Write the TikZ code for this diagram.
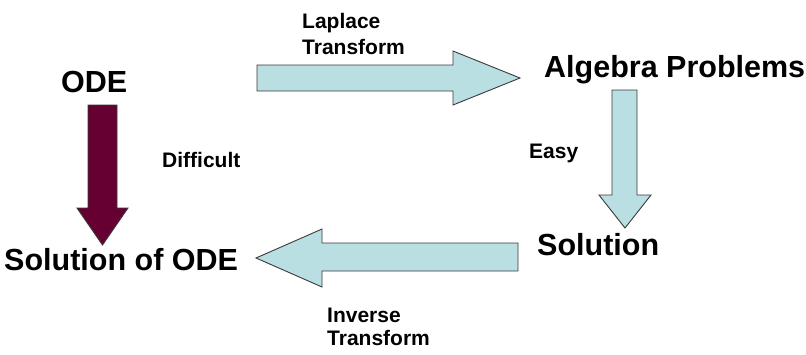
\documentclass[tikz,border=0pt]{standalone}
\usepackage{fontspec}
\setmainfont{Liberation Sans}
\definecolor{lightarrow}{HTML}{B9DFE2}
\definecolor{maroonarrow}{HTML}{660033}
\definecolor{edgegray}{HTML}{3A3A3A}
\begin{document}
\begin{tikzpicture}[x=1pt,y=-1pt,
  big/.style={inner sep=0pt,anchor=base west,font=\bfseries\fontsize{30.5}{36}\selectfont},
  small/.style={inner sep=0pt,anchor=base west,font=\bfseries\fontsize{21}{25}\selectfont},
  lightblock/.style={fill=lightarrow,draw=edgegray,line width=0.9pt,line join=miter},
  darkblock/.style={fill=maroonarrow,draw=edgegray,line width=0.9pt,line join=miter}]
\useasboundingbox (0,0) rectangle (806,354);

% texts
\node[big] (ode) at (61,92) {ODE};
\node[big] (sol) at (4,270) {Solution of ODE};
\node[big] (alg) at (544,77) {Algebra Problems};
\node[big] (sln) at (537,255) {Solution};

\node[small] (lap1) at (302,28) {Laplace};
\node[small] (lap2) at (302,54) {Transform};
\node[small] (diff) at (162,167) {Difficult};
\node[small] (easy) at (529,158) {Easy};
\node[small] (inv1) at (327,322) {Inverse};
\node[small] (inv2) at (327,345) {Transform};

% block arrows
\draw[lightblock] (257,65) -- (453,65) -- (453,51) -- (520,78) -- (453,105) -- (453,91) -- (257,91) -- cycle;
\draw[darkblock] (88,105) -- (117,105) -- (117,208) -- (128,208) -- (102.5,245) -- (77,208) -- (88,208) -- cycle;
\draw[lightblock] (612,90) -- (637,90) -- (637,195) -- (651,195) -- (625,228) -- (599,195) -- (612,195) -- cycle;
\draw[lightblock] (518,243) -- (322,243) -- (322,229) -- (256,258) -- (322,287) -- (322,271) -- (518,271) -- cycle;
\end{tikzpicture}
\end{document}
